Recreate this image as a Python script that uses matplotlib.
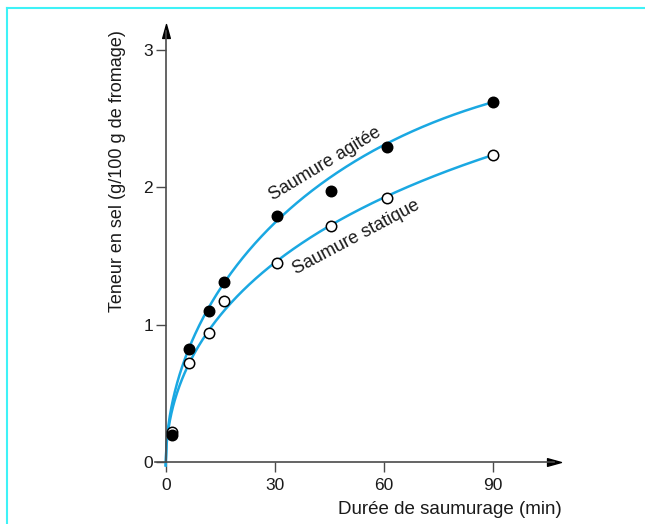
import numpy as np
import matplotlib
matplotlib.use("Agg")
import matplotlib.pyplot as plt
from matplotlib.lines import Line2D
from matplotlib.path import Path

plt.rcParams['font.family'] = ['Liberation Sans', 'DejaVu Sans']

# Measured data points
temps = [1.6, 6.3, 12, 16, 30.6, 45.5, 60.8, 90]
agitee = [0.20, 0.825, 1.10, 1.31, 1.79, 1.97, 2.29, 2.62]
statique = [0.22, 0.72, 0.94, 1.17, 1.45, 1.72, 1.92, 2.23]

# Curve points read from the drawn (fitted) curves
curve_t = [0, 1.65, 6.3, 12, 16, 30.6, 45.5, 60.8, 90]
curve_agitee = [0, 0.35, 0.85, 1.12, 1.31, 1.79, 2.055, 2.29, 2.63]
curve_statique = [0, 0.31, 0.72, 0.97, 1.13, 1.45, 1.72, 1.92, 2.24]

xticks = [0, 30, 60, 90]
yticks = [0, 1, 2, 3]

W, H = 645, 524
fig = plt.figure(figsize=(W / 100, H / 100), dpi=100)

# axes placement (pixels)
left_px, right_px, bottom_px, top_px = 155, 554, 462, 31
ax = fig.add_axes([left_px / W, 1 - bottom_px / H, (right_px - left_px) / W, (bottom_px - top_px) / H])
px_per_min = (492.7 - 165.7) / 90
px_per_unit = 137.4
ax.set_xlim((left_px - 165.7) / px_per_min, (right_px - 165.7) / px_per_min)
ax.set_ylim(0, (461.7 - top_px) / px_per_unit)

axis_col = '#4a4a4a'
for s in ['top', 'right']:
    ax.spines[s].set_visible(False)
ax.spines['left'].set_position(('data', 0))
ax.spines['bottom'].set_position(('data', 0))
for s in ['left', 'bottom']:
    ax.spines[s].set_color(axis_col)
    ax.spines[s].set_linewidth(1.2)

right_tri = Path([(-1, -0.55), (1, 0), (-1, 0.55), (-1, -0.55)], closed=True)
up_tri = Path([(-0.55, -1), (0, 1), (0.55, -1), (-0.55, -1)], closed=True)
ax.plot(1, 0, marker=right_tri, color='black', markersize=10, lw=0,
        transform=ax.get_yaxis_transform(), clip_on=False)
ax.plot(0, 1, marker=up_tri, color='black', markersize=10, lw=0,
        transform=ax.get_xaxis_transform(), clip_on=False)

ax.set_xticks(xticks)
ax.set_yticks(yticks)
ax.set_xticklabels([str(v) for v in xticks])
ax.set_yticklabels([str(v) for v in yticks])
ax.tick_params(axis='both', direction='out', length=7.2, width=1.0, color=axis_col,
               labelsize=12.5, labelcolor='#1a1a1a')
ax.tick_params(axis='y', pad=2)
ax.tick_params(axis='x', pad=4)

# Smooth curves through the read curve points (polynomial in sqrt(t))
line_col = '#1aa8e2'
tt = np.linspace(0, 90, 400)
for cy in (curve_agitee, curve_statique):
    u = np.sqrt(np.array(curve_t, dtype=float))
    coef = np.polyfit(u, np.array(cy), 3)
    yy = np.polyval(coef, np.sqrt(tt))
    ax.plot(tt, yy, color=line_col, lw=1.8, zorder=2, clip_on=False)

ax.plot(temps, statique, 'o', ms=7.5, mfc='white', mec='black', mew=1.1, zorder=3, clip_on=False)
ax.plot(temps, agitee, 'o', ms=7.5, mfc='black', mec='black', mew=1.1, zorder=4, clip_on=False)

ax.text(43.8, 2.17, 'Saumure agitée', rotation=31, rotation_mode='anchor',
        ha='center', va='center', fontsize=13, color='#1a1a1a')
ax.text(52.4, 1.635, 'Saumure statique', rotation=28, rotation_mode='anchor',
        ha='center', va='center', fontsize=13, color='#1a1a1a')

fig.text(562 / W, 1 - 509 / H, 'Durée de saumurage (min)', ha='right', va='center',
         fontsize=13.5, color='#1a1a1a')
fig.text(117 / W, 1 - 171 / H, 'Teneur en sel (g/100 g de fromage)', rotation=90,
         ha='center', va='center', fontsize=13, color='#1a1a1a')

# cyan frame (top and left edges)
frame_col = '#3ef2f7'
fig.add_artist(Line2D([7 / W, 1], [1 - 8 / H, 1 - 8 / H], color=frame_col, lw=1.5, transform=fig.transFigure))
fig.add_artist(Line2D([7 / W, 7 / W], [0, 1 - 8 / H], color=frame_col, lw=1.5, transform=fig.transFigure))

fig.savefig('out.png', dpi=100)
